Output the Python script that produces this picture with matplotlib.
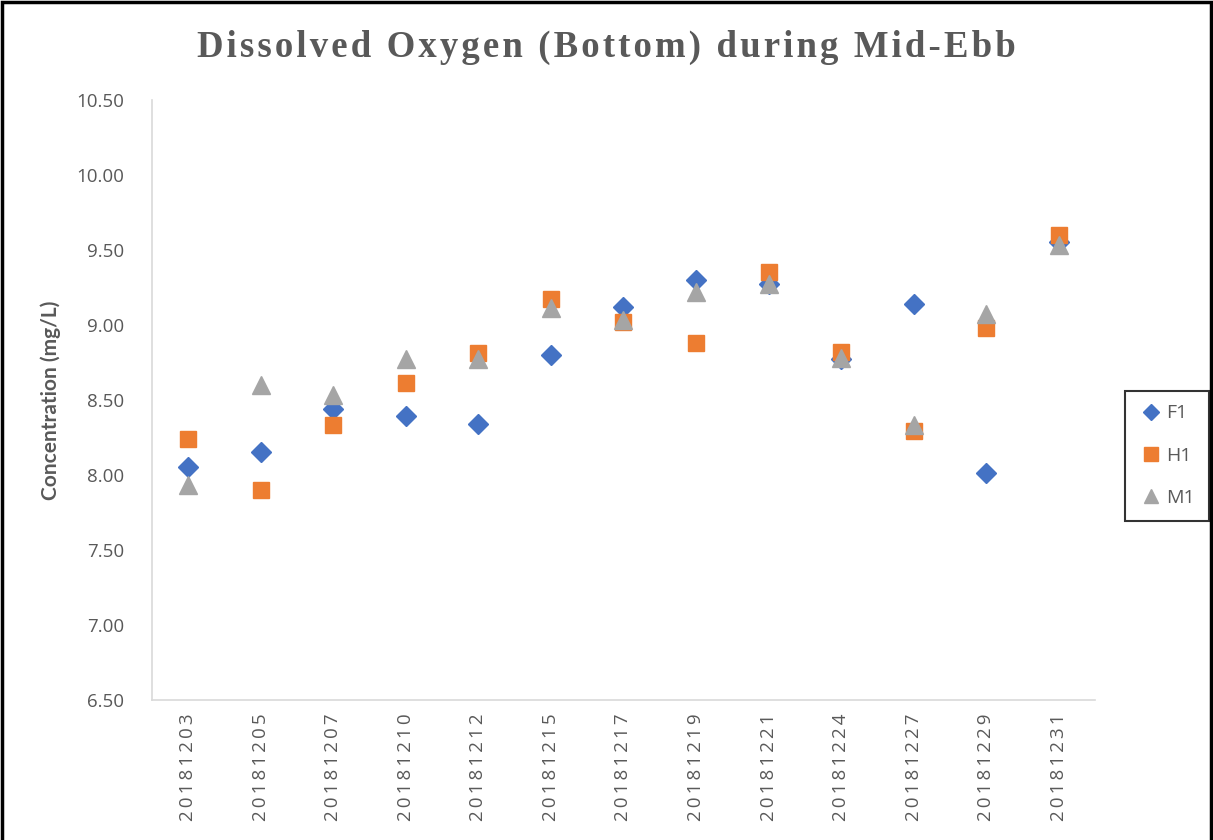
import matplotlib
matplotlib.use("Agg")
import matplotlib.pyplot as plt
from matplotlib.patches import Rectangle
from matplotlib.ticker import FormatStrFormatter

# sampling dates (category axis)
dates = ['20181203', '20181205', '20181207', '20181210', '20181212', '20181215', '20181217',
         '20181219', '20181221', '20181224', '20181227', '20181229', '20181231']

# dissolved oxygen, mg/L
f1 = [8.05, 8.15, 8.44, 8.39, 8.34, 8.80, 9.12, 9.30, 9.27, 8.77, 9.14, 8.01, 9.55]
h1 = [8.24, 7.90, 8.33, 8.61, 8.81, 9.17, 9.02, 8.88, 9.35, 8.82, 8.29, 8.98, 9.60]
m1 = [7.93, 8.60, 8.53, 8.77, 8.77, 9.11, 9.03, 9.22, 9.27, 8.78, 8.33, 9.07, 9.53]

title = 'Dissolved Oxygen (Bottom) during Mid-Ebb'

grey = '#595959'
plt.rcParams['font.family'] = ['Open Sans', 'DejaVu Sans']

fig = plt.figure(figsize=(12.13, 8.40), dpi=100)
ax = fig.add_axes([0.1253, 0.1667, 0.7774, 0.7143])

x = list(range(len(dates)))
ax.plot(x, f1, linestyle='none', marker='D', markersize=10, color='#4472C4', label='F1')
ax.plot(x, h1, linestyle='none', marker='s', markersize=12, color='#ED7D31', label='H1')
ax.plot(x, m1, linestyle='none', marker='^', markersize=13, color='#A5A5A5', label='M1')

ax.set_xlim(-0.5, len(dates) - 0.5)
ax.set_ylim(6.5, 10.5)
ax.set_yticks([6.5, 7.0, 7.5, 8.0, 8.5, 9.0, 9.5, 10.0, 10.5])
ax.yaxis.set_major_formatter(FormatStrFormatter('%.2f'))
ax.set_xticks(x)
# excel spreads the rotated digits a bit, thin spaces imitate that
ax.set_xticklabels(['\u2009'.join(d) for d in dates], rotation=90)
ax.tick_params(axis='both', length=0, labelsize=13.5, colors=grey)
ax.tick_params(axis='y', pad=20)
ax.tick_params(axis='x', pad=10)

for s in ['top', 'right']:
    ax.spines[s].set_visible(False)
for s in ['left', 'bottom']:
    ax.spines[s].set_color('#D9D9D9')
    ax.spines[s].set_linewidth(1.2)

ax.set_ylabel('Concentration (mg/L)', fontsize=15, fontweight='bold', color=grey,
              labelpad=11, family=['Lato', 'DejaVu Sans'])

# letter-spaced title
fig.text(0.5, 0.944, '\u200a'.join(title), ha='center', va='center',
         family=['Liberation Serif', 'DejaVu Serif'], fontweight='bold', fontsize=26.5, color=grey)

leg = ax.legend(loc='center left', bbox_to_anchor=(1.022, 0.407), frameon=True, fancybox=False,
                edgecolor='black', fontsize=14, labelspacing=1.25, handletextpad=0.2,
                handlelength=1.2, borderpad=0.7, markerscale=0.8)
leg.get_frame().set_linewidth(1.5)
for t in leg.get_texts():
    t.set_color(grey)

fig.patches.append(Rectangle((0.002, -0.01), 0.996, 1.008, transform=fig.transFigure,
                             fill=False, edgecolor='black', linewidth=2.5))

fig.savefig('out.png', dpi=100)
